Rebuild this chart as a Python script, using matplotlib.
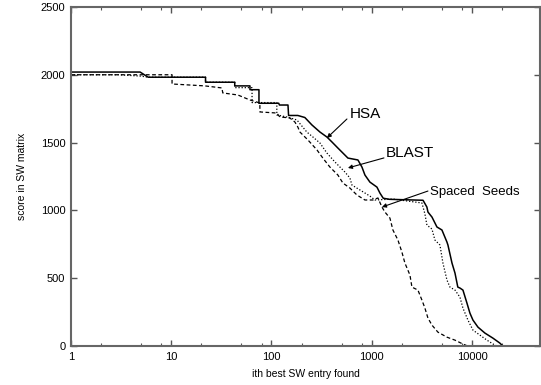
import numpy as np
import matplotlib
matplotlib.use("Agg")
import matplotlib.pyplot as plt
from matplotlib.ticker import LogLocator, FixedLocator, NullFormatter

plt.rcParams['font.family'] = ['Liberation Sans', 'DejaVu Sans']

# HSA (solid)
hsa_x = [1, 4.9, 5.9, 22, 22, 43, 43, 61, 61, 75, 75, 118, 120, 146, 148, 183, 215,
         253, 304, 357, 400, 459, 578, 727, 797, 854, 957, 1125, 1205, 1300, 1500,
         3240, 3540, 3630, 3980, 4460, 5000, 5610, 5740, 6300, 6750, 7200, 7560,
         8100, 8880, 9510, 10190, 11430, 13420, 16110, 18920, 20300, 50000]
hsa_y = [2020, 2020, 1982, 1982, 1945, 1945, 1918, 1918, 1890, 1890, 1790, 1790, 1777,
         1777, 1700, 1700, 1685, 1630, 1578, 1541, 1505, 1460, 1386, 1372, 1320, 1261,
         1209, 1172, 1128, 1090, 1082, 1075, 1025, 988, 951, 878, 856, 767, 745, 612,
         538, 435, 428, 413, 317, 243, 192, 140, 96, 59, 22, 0, 0]

# BLAST (dotted)
blast_x = [1, 3, 5, 5.9, 22, 22, 43, 43, 64, 64, 113, 113, 142, 179, 225, 259, 304,
           357, 429, 481, 540, 605, 634, 761, 957, 1074, 1623, 3160, 3384, 3543, 3975,
           4258, 4776, 5118, 5612, 6013, 6746, 7559, 8100, 9080, 10190, 11960, 14050,
           16870, 18070, 50000]
blast_y = [2000, 2000, 1990, 1982, 1982, 1945, 1945, 1905, 1905, 1795, 1795, 1704,
           1689, 1667, 1578, 1541, 1497, 1423, 1357, 1320, 1283, 1239, 1187, 1151, 1106,
           1077, 1084, 1055, 974, 892, 863, 782, 745, 612, 487, 435, 413, 361, 280, 192,
           118, 81, 44, 7, 0, 0]

# Spaced Seeds (dashed)
seeds_x = [1, 10.2, 10.2, 21.7, 32, 32.7, 46.2, 61, 76.6, 76.6, 113, 121, 152, 171,
           183, 192, 231, 284, 325, 382, 459, 515, 605, 710, 854, 1026, 1151, 1262,
           1352, 1515, 1623, 1821, 1995, 2138, 2399, 2512, 2882, 3160, 3384, 3626, 3975,
           4560, 5612, 6746, 8100, 9080, 50000]
seeds_y = [2000, 2000, 1932, 1918, 1903, 1866, 1851, 1814, 1792, 1726, 1718, 1689,
           1682, 1652, 1615, 1578, 1519, 1446, 1386, 1320, 1261, 1202, 1165, 1114, 1077,
           1077, 1092, 1025, 988, 944, 856, 782, 693, 612, 524, 435, 413, 339, 280, 207,
           155, 103, 66, 44, 15, 0, 0]

y_ticks = [0, 500, 1000, 1500, 2000, 2500]
x_ticks = [1, 10, 100, 1000, 10000]

fig = plt.figure(figsize=(5.41, 3.85), dpi=100)
ax = fig.add_axes([0.131, 0.101, 0.868, 0.881])

ax.plot(hsa_x, hsa_y, '-', color='black', lw=1.1)
ax.plot(blast_x, blast_y, color='black', lw=0.9, linestyle=(0, (1, 1.5)))
ax.plot(seeds_x, seeds_y, color='black', lw=0.9, linestyle=(0, (3, 2)))

ax.set_xscale('log')
ax.set_xlim(1, 48000)
ax.set_ylim(0, 2500)
ax.xaxis.set_major_locator(FixedLocator(x_ticks))
ax.set_xticklabels([str(v) for v in x_ticks])
ax.xaxis.set_minor_locator(LogLocator(base=10, subs=[2, 5, 8]))
ax.xaxis.set_minor_formatter(NullFormatter())
ax.set_yticks(y_ticks)

ax.tick_params(which='both', direction='in', top=True, right=True,
               labelsize=8, color='#555555', pad=4)
ax.tick_params(which='major', length=4, width=1)
ax.tick_params(which='minor', length=2, width=0.8)
for s in ax.spines.values():
    s.set_color('#666666')
    s.set_linewidth(1.5)

ax.set_xlabel('ith best SW entry found', fontsize=7.5, labelpad=5)
ax.set_ylabel('score in SW matrix', fontsize=7.5, labelpad=10)

arrow = dict(arrowstyle='-|>', lw=0.8, color='black', mutation_scale=6,
             shrinkA=0, shrinkB=0)
ax.text(605, 1681, 'HSA', fontsize=11, ha='left', va='baseline')
ax.annotate('', xy=(357, 1534), xytext=(565, 1674), arrowprops=arrow)
ax.text(1383, 1394, 'BLAST', fontsize=11, ha='left', va='baseline')
ax.annotate('', xy=(578, 1313), xytext=(1321, 1387), arrowprops=arrow)
ax.text(3796, 1114, 'Spaced  Seeds', fontsize=9.5, ha='left', va='baseline')
ax.annotate('', xy=(1262, 1025), xytext=(3626, 1143), arrowprops=arrow)

fig.savefig('out.png', dpi=100)
